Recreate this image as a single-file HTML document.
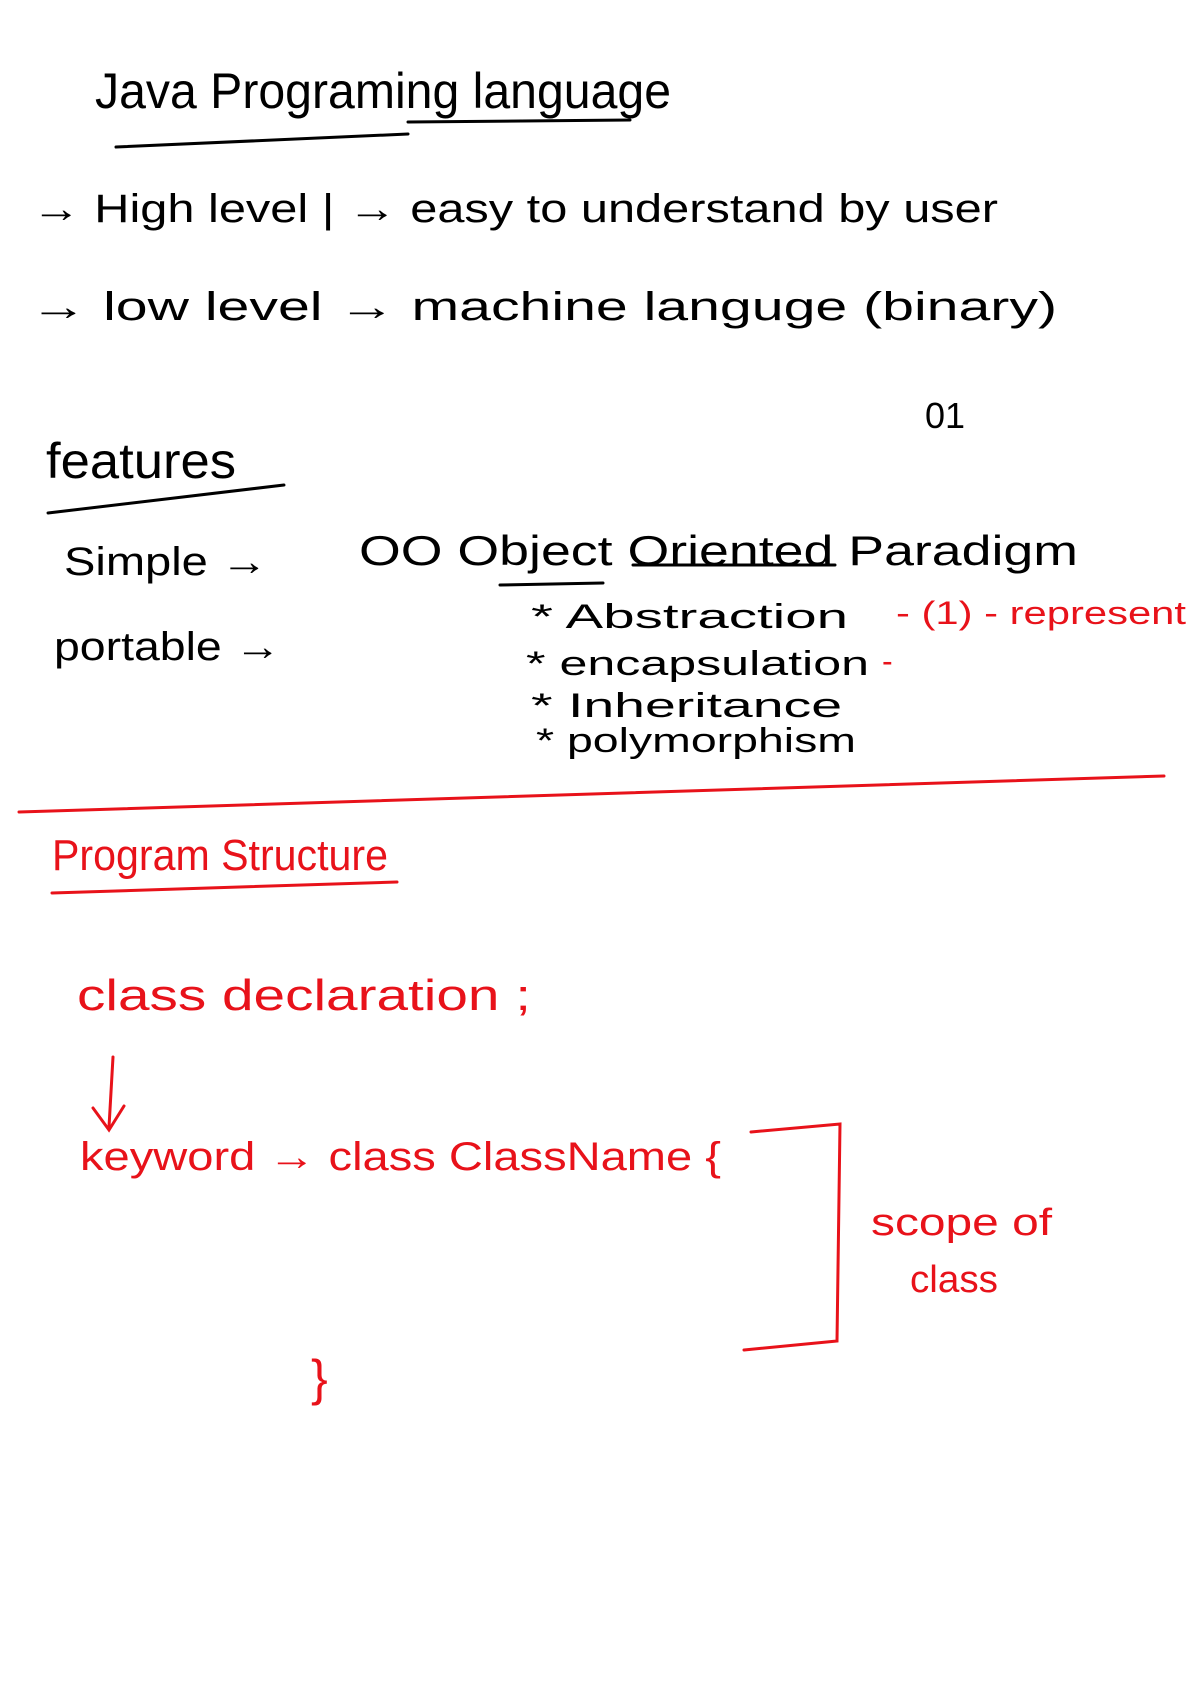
<!DOCTYPE html>
<html><head><meta charset="utf-8"><style>
html,body{margin:0;padding:0;background:#fff;}
svg{display:block;}
text{font-family:"Liberation Sans",sans-serif;}
</style></head><body>
<svg width="1191" height="1684" viewBox="0 0 1191 1684" xmlns="http://www.w3.org/2000/svg">
<g fill="#000" lengthAdjust="spacingAndGlyphs">
<text x="95" y="108" font-size="50" textLength="576" lengthAdjust="spacingAndGlyphs">Java Programing language</text>
<text x="32" y="222" font-size="40" textLength="966" lengthAdjust="spacingAndGlyphs">→  High level |  → easy  to  understand  by  user</text>
<text x="30" y="320" font-size="40" textLength="1027" lengthAdjust="spacingAndGlyphs">→ low level  →   machine    languge  (binary)</text>
<text x="925" y="428" font-size="36">01</text>
<text x="46" y="478" font-size="50" textLength="190" lengthAdjust="spacingAndGlyphs">features</text>
<text x="64" y="575" font-size="40" textLength="204" lengthAdjust="spacingAndGlyphs">Simple  →</text>
<text x="54" y="660" font-size="40" textLength="227" lengthAdjust="spacingAndGlyphs">portable →</text>
<text x="359" y="565" font-size="42" textLength="719" lengthAdjust="spacingAndGlyphs">OO  Object Oriented  Paradigm</text>
<text x="531" y="628" font-size="34" textLength="317" lengthAdjust="spacingAndGlyphs">*     Abstraction</text>
<text x="526" y="675" font-size="34" textLength="343" lengthAdjust="spacingAndGlyphs">*    encapsulation</text>
<text x="531" y="717" font-size="34" textLength="311" lengthAdjust="spacingAndGlyphs">*    Inheritance</text>
<text x="536" y="752" font-size="34" textLength="320" lengthAdjust="spacingAndGlyphs">*     polymorphism</text>
</g>
<g stroke="#000" stroke-width="3" fill="none" stroke-linecap="round">
<line x1="116" y1="147" x2="408" y2="134"/>
<line x1="408" y1="122" x2="630" y2="120"/>
<line x1="48" y1="513" x2="284" y2="485"/>
<line x1="500" y1="585" x2="603" y2="583"/>
<line x1="633" y1="565" x2="835" y2="565"/>
</g>
<g fill="#e8121a">
<text x="52" y="870" font-size="44" textLength="336" lengthAdjust="spacingAndGlyphs">Program Structure</text>
<text x="77" y="1010" font-size="44" textLength="454" lengthAdjust="spacingAndGlyphs">class  declaration ;</text>
<text x="80" y="1170" font-size="40" textLength="641" lengthAdjust="spacingAndGlyphs">keyword →  class    ClassName {</text>
<text x="871" y="1235" font-size="38" textLength="181" lengthAdjust="spacingAndGlyphs">scope of</text>
<text x="910" y="1292" font-size="38" textLength="88" lengthAdjust="spacingAndGlyphs">class</text>
<text x="311" y="1395" font-size="50">}</text>
<text x="896" y="624" font-size="32" textLength="290" lengthAdjust="spacingAndGlyphs">-  (1) - represent</text>
<text x="882" y="672" font-size="32">-</text>
</g>
<g stroke="#e8121a" stroke-width="3" fill="none" stroke-linecap="round">
<line x1="19" y1="812" x2="1164" y2="776"/>
<line x1="52" y1="893" x2="397" y2="882"/>
<line x1="113" y1="1057" x2="109" y2="1127"/>
<polyline points="93,1108 109,1130 124,1106"/>
<polyline points="751,1132 840,1124 837,1341 744,1350"/>
</g>
</svg>
</body></html>
